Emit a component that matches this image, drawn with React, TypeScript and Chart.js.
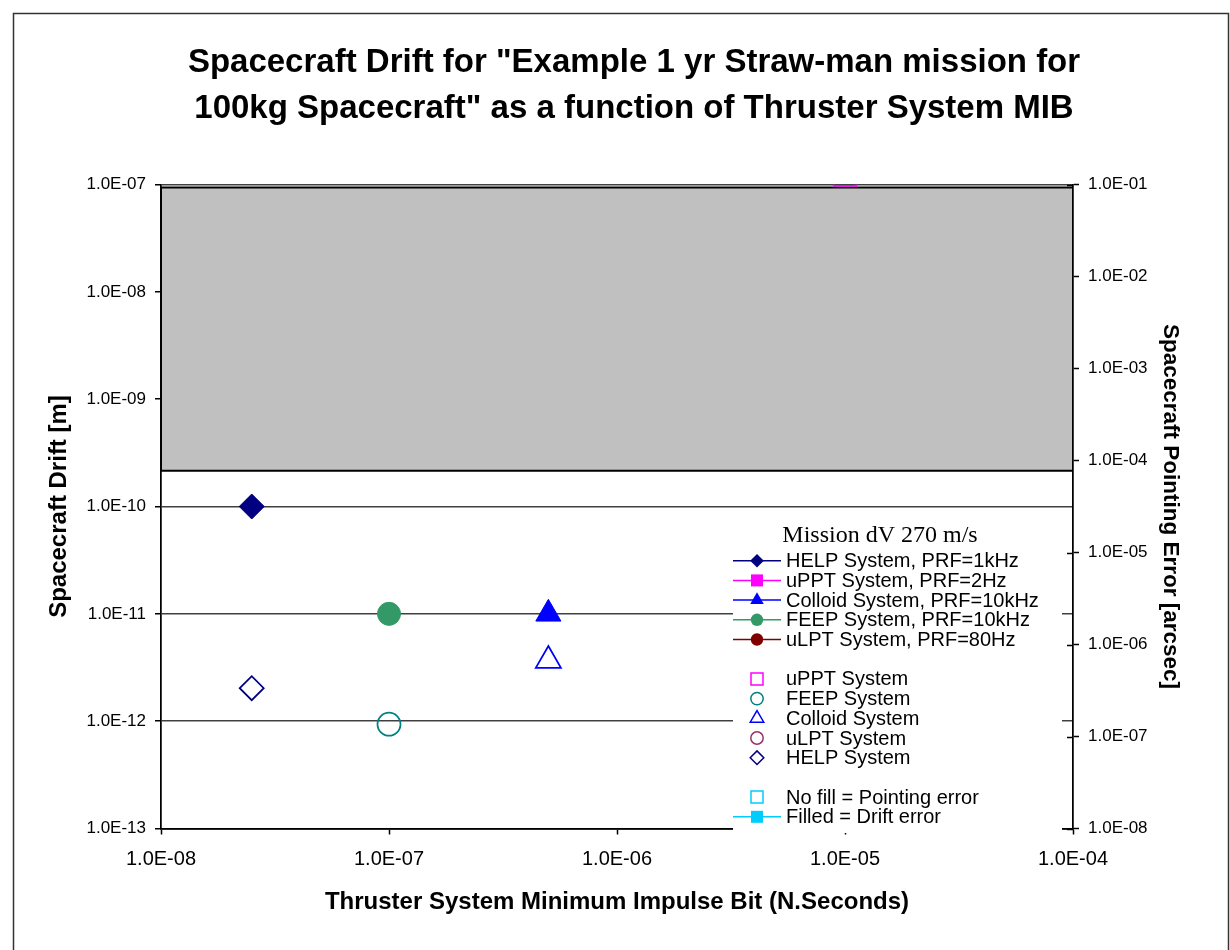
import React, { useEffect, useRef } from 'react';
import { Chart, registerables } from 'chart.js';

Chart.register(...registerables);

const SANS = "'Liberation Sans', Arial, sans-serif";
const SERIF = "'Liberation Serif', 'Times New Roman', serif";

// Chart title (two lines)
const titleLines = [
  'Spacecraft Drift for "Example 1 yr Straw-man mission for',
  '100kg Spacecraft" as a function of Thruster System MIB',
];
const legendTitle = 'Mission dV 270 m/s';

// Thruster minimum impulse bit [N.s] for each system
const mibHELP = [2.5e-8];
const mibFEEP = [1e-7];
const mibColloid = [5e-7];
const mibUPPT = [1e-5];

// Drift error, left axis [m]
const driftHELP = [1e-10];
const driftFEEP = [1e-11];
const driftColloid = [1e-11];

// Pointing error, right axis [arcsec]
const pointHELP = [3.35e-7];
const pointFEEP = [1.36e-7];
const pointColloid = [6.7e-7];
const pointUPPT = [0.128];

// Shaded band: full MIB range, drift bounds [m]
const bandX = [1e-8, 1e-4];
const bandDrift = [9.4e-8, 2.15e-10];

// Axis ticks
const xTicks = [1e-8, 1e-7, 1e-6, 1e-5, 1e-4];
const driftTicks = [1e-13, 1e-12, 1e-11, 1e-10, 1e-9, 1e-8, 1e-7];
const pointTicks = [1e-8, 1e-7, 1e-6, 1e-5, 1e-4, 1e-3, 1e-2, 1e-1];

// Legend rows: dataset index, or null for a blank row
const legendRows: (number | null)[] = [0, 1, 2, 3, 4, null, 5, 6, 7, 8, 9, null, 10, 11];

const pts = (xs: number[], ys: number[]) => xs.map((x, i) => ({ x, y: ys[i] }));

const sci = (v: number) => {
  const [m, e] = Number(v).toExponential(1).split('e');
  const n = Number(e);
  return `${m}E${n < 0 ? '-' : '+'}${String(Math.abs(n)).padStart(2, '0')}`;
};

type Style = 'circle' | 'rect' | 'rectRot' | 'triangle';

function series(
  label: string,
  color: string,
  style: Style,
  filled: boolean,
  radius: number,
  data: { x: number; y: number }[],
  axis: 'y' | 'y2'
) {
  return {
    label,
    data,
    yAxisID: axis,
    pointStyle: style,
    pointRadius: radius,
    pointBackgroundColor: filled ? color : 'rgba(0,0,0,0)',
    pointBorderColor: color,
    pointBorderWidth: filled ? 1 : 1.75,
    borderColor: color,
    backgroundColor: filled ? color : 'rgba(0,0,0,0)',
    showLine: false,
    filled,
  };
}

function tracePath(ctx: CanvasRenderingContext2D, style: Style, x: number, y: number, r: number) {
  ctx.beginPath();
  if (style === 'circle') {
    ctx.arc(x, y, r, 0, Math.PI * 2);
  } else if (style === 'rect') {
    ctx.rect(x - r, y - r, 2 * r, 2 * r);
  } else if (style === 'rectRot') {
    ctx.moveTo(x - r, y);
    ctx.lineTo(x, y - r);
    ctx.lineTo(x + r, y);
    ctx.lineTo(x, y + r);
    ctx.closePath();
  } else {
    ctx.moveTo(x, y - r);
    ctx.lineTo(x + r * 0.866, y + r / 2);
    ctx.lineTo(x - r * 0.866, y + r / 2);
    ctx.closePath();
  }
}

const legendSize: Record<Style, number> = { circle: 6.2, rect: 6, rectRot: 6.8, triangle: 7.8 };

// Outer frame, title, and inner tick halves on the pointing-error axis
const framePlugin = {
  id: 'frameAndTicks',
  beforeDraw(chart: any) {
    const ctx = chart.ctx;
    ctx.save();
    ctx.strokeStyle = '#333';
    ctx.lineWidth = 1.5;
    ctx.strokeRect(13.5, 13.5, 1215, 1000);
    ctx.fillStyle = '#000';
    ctx.font = `bold 33px ${SANS}`;
    ctx.textAlign = 'center';
    ctx.textBaseline = 'middle';
    titleLines.forEach((line, i) => ctx.fillText(line, 634, 63 + i * 46));
    ctx.restore();
  },
  beforeDatasetsDraw(chart: any) {
    const ctx = chart.ctx;
    const s = chart.scales.y2;
    const right = chart.chartArea.right;
    ctx.save();
    ctx.strokeStyle = '#000';
    ctx.lineWidth = 1.5;
    pointTicks.forEach((v) => {
      const y = Math.round(s.getPixelForValue(v)) + 0.5;
      ctx.beginPath();
      ctx.moveTo(right - 6, y);
      ctx.lineTo(right, y);
      ctx.stroke();
    });
    ctx.restore();
  },
};

// Boxed legend inside the plot area
const boxLegendPlugin = {
  id: 'boxLegend',
  afterDraw(chart: any) {
    const ctx = chart.ctx;
    const left = 733;
    const top = 521;
    const right = 1062;
    const bottom = 833;
    const lineEnd = 781;
    const mx = 757;
    const tx = 786;
    const y0 = 560.7;
    const step = 19.7;
    ctx.save();
    ctx.fillStyle = '#fff';
    ctx.fillRect(left, top, right - left, bottom - top);

    ctx.fillStyle = '#000';
    ctx.font = `24px ${SERIF}`;
    ctx.textAlign = 'center';
    ctx.textBaseline = 'middle';
    ctx.fillText(legendTitle, 880, 535.5);

    ctx.font = `20px ${SANS}`;
    ctx.textAlign = 'left';
    legendRows.forEach((idx, row) => {
      if (idx === null) return;
      const ds: any = chart.data.datasets[idx];
      const y = y0 + row * step;
      const style = ds.pointStyle as Style;
      if (ds.filled) {
        ctx.strokeStyle = ds.borderColor;
        ctx.lineWidth = 1.5;
        ctx.beginPath();
        ctx.moveTo(left, y);
        ctx.lineTo(lineEnd, y);
        ctx.stroke();
      }
      tracePath(ctx, style, mx, y, legendSize[style]);
      if (ds.filled) {
        ctx.fillStyle = ds.pointBackgroundColor;
        ctx.fill();
      } else {
        ctx.strokeStyle = ds.pointBorderColor;
        ctx.lineWidth = 1.5;
        ctx.stroke();
      }
      ctx.fillStyle = '#000';
      ctx.fillText(ds.label, tx, y + 1);
    });
    ctx.restore();
  },
};

export default function App() {
  const ref = useRef<HTMLCanvasElement | null>(null);

  useEffect(() => {
    if (!ref.current) return;
    const datasets: any[] = [
      series('HELP System, PRF=1kHz', '#000080', 'rectRot', true, 12.5, pts(mibHELP, driftHELP), 'y'),
      series('uPPT System, PRF=2Hz', '#FF00FF', 'rect', true, 8, [], 'y'),
      series('Colloid System, PRF=10kHz', '#0000FF', 'triangle', true, 14.5, pts(mibColloid, driftColloid), 'y'),
      series('FEEP System, PRF=10kHz', '#339966', 'circle', true, 11.5, pts(mibFEEP, driftFEEP), 'y'),
      series('uLPT System, PRF=80Hz', '#800000', 'circle', true, 11.5, [], 'y'),
      series('uPPT System', '#FF00FF', 'rect', false, 16, pts(mibUPPT, pointUPPT), 'y2'),
      series('FEEP System', '#008080', 'circle', false, 11.5, pts(mibFEEP, pointFEEP), 'y2'),
      series('Colloid System', '#0000FF', 'triangle', false, 14.5, pts(mibColloid, pointColloid), 'y2'),
      series('uLPT System', '#993366', 'circle', false, 11.5, [], 'y2'),
      series('HELP System', '#000080', 'rectRot', false, 12, pts(mibHELP, pointHELP), 'y2'),
      series('No fill = Pointing error', '#00CCFF', 'rect', false, 8, [], 'y2'),
      series('Filled = Drift error', '#00CCFF', 'rect', true, 8, [], 'y'),
      {
        label: 'band',
        data: [
          { x: bandX[0], y: bandDrift[0] },
          { x: bandX[1], y: bandDrift[0] },
          { x: bandX[1], y: bandDrift[1] },
          { x: bandX[0], y: bandDrift[1] },
          { x: bandX[0], y: bandDrift[0] },
        ],
        yAxisID: 'y',
        showLine: true,
        tension: 0,
        pointRadius: 0,
        borderColor: '#000',
        borderWidth: 2,
        backgroundColor: '#C0C0C0',
        fill: 'shape',
      },
    ];

    const tickFont = { family: SANS, size: 17 };
    const chart = new Chart(ref.current, {
      type: 'scatter',
      data: { datasets },
      plugins: [framePlugin, boxLegendPlugin],
      options: {
        animation: false,
        responsive: false,
        events: [],
        layout: { padding: { top: 184.5, left: 0, right: 0, bottom: 0 } },
        plugins: {
          legend: { display: false },
          tooltip: { enabled: false },
          title: { display: false },
        },
        scales: {
          x: {
            type: 'logarithmic',
            position: 'bottom',
            min: xTicks[0],
            max: xTicks[xTicks.length - 1],
            afterBuildTicks: (s: any) => {
              s.ticks = xTicks.map((value) => ({ value }));
            },
            afterFit: (s: any) => {
              s.height = 121.5;
            },
            ticks: {
              callback: (v: any) => sci(Number(v)),
              font: { family: SANS, size: 20 },
              color: '#000',
              padding: 13,
              maxRotation: 0,
              autoSkip: false,
            },
            grid: { drawOnChartArea: false, drawTicks: true, tickLength: 6, tickColor: '#000', tickWidth: 1.5 },
            border: { color: '#000', width: 1.75 },
            title: {
              display: true,
              text: 'Thruster System Minimum Impulse Bit (N.Seconds)',
              color: '#000',
              font: { family: SANS, size: 24, weight: 'bold' },
              padding: { top: 0, bottom: 33.6 },
            },
          },
          y: {
            type: 'logarithmic',
            position: 'left',
            min: driftTicks[0],
            max: driftTicks[driftTicks.length - 1],
            afterBuildTicks: (s: any) => {
              s.ticks = driftTicks.map((value) => ({ value }));
            },
            afterFit: (s: any) => {
              s.width = 161;
            },
            ticks: {
              callback: (v: any) => sci(Number(v)),
              font: tickFont,
              color: '#000',
              padding: 9,
              autoSkip: false,
            },
            grid: {
              color: '#404040',
              lineWidth: 1.5,
              drawTicks: true,
              tickLength: 6,
              tickColor: '#000',
              tickWidth: 1.5,
            },
            border: { color: '#000', width: 1.75 },
            title: {
              display: true,
              text: 'Spacecraft Drift [m]',
              color: '#000',
              font: { family: SANS, size: 24, weight: 'bold' },
              padding: { top: 44.6, bottom: 0 },
            },
          },
          y2: {
            type: 'logarithmic',
            position: 'right',
            min: pointTicks[0],
            max: pointTicks[pointTicks.length - 1],
            afterBuildTicks: (s: any) => {
              s.ticks = pointTicks.map((value) => ({ value }));
            },
            afterFit: (s: any) => {
              s.width = 157;
            },
            ticks: {
              callback: (v: any) => sci(Number(v)),
              font: tickFont,
              color: '#000',
              padding: 9,
              autoSkip: false,
            },
            grid: { drawOnChartArea: false, drawTicks: true, tickLength: 6, tickColor: '#000', tickWidth: 1.5 },
            border: { color: '#000', width: 1.75 },
            title: {
              display: true,
              text: 'Spacecraft Pointing Error [arcsec]',
              color: '#000',
              font: { family: SANS, size: 22.5, weight: 'bold' },
              padding: { top: 46.5, bottom: 0 },
            },
          },
        },
      } as any,
    });
    return () => chart.destroy();
  }, []);

  return (
    <div
      style={{
        position: 'absolute',
        left: 0,
        top: 0,
        width: 1230,
        height: 950,
        overflow: 'hidden',
        background: '#fff',
      }}
    >
      <canvas ref={ref} width={1230} height={950} style={{ display: 'block' }} />
    </div>
  );
}
